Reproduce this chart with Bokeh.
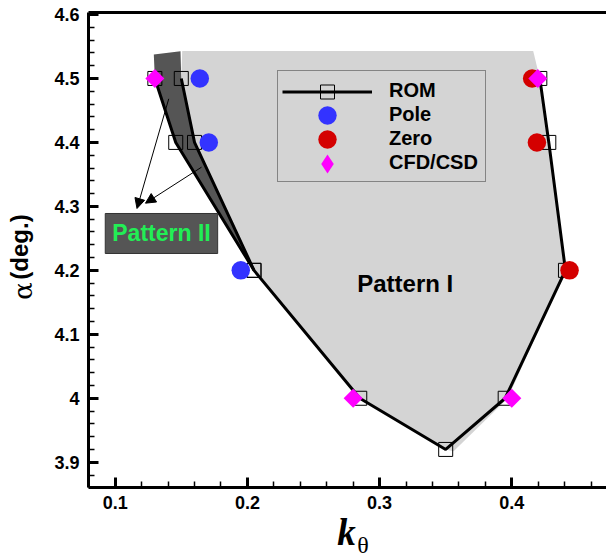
import numpy as np
from bokeh.plotting import figure
from bokeh.models import (Range1d, SingleIntervalTicker, FixedTicker, NumeralTickFormatter, Legend,
                          LegendItem, Label, Arrow, NormalHead, LinearAxis)
from bokeh.embed import file_html
from bokeh.resources import INLINE

# ---------------- data ----------------
# ROM boundary (outer left branch and main branch)
rom_outer_k = [0.130, 0.1458, 0.205]
rom_outer_a = [4.5, 4.4, 4.2]
rom_main_k = [0.150, 0.160, 0.205, 0.285, 0.350, 0.395, 0.4406, 0.428, 0.4212]
rom_main_a = [4.5, 4.4, 4.2, 4.0, 3.92, 4.0, 4.2, 4.4, 4.5]

pole_k = [0.164, 0.1708, 0.195]
pole_a = [4.5, 4.4, 4.2]

zero_k = [0.4154, 0.419, 0.4437]
zero_a = [4.5, 4.4, 4.2]

cfd_k = [0.130, 0.280, 0.400, 0.4197]
cfd_a = [4.5, 4.0, 4.0, 4.5]

# shaded regions
pat1_k = [0.1507, 0.150, 0.160, 0.205, 0.285, 0.350, 0.356, 0.397, 0.4406, 0.428, 0.4212, 0.4162]
pat1_a = [4.543, 4.5, 4.4, 4.2, 4.0, 3.92, 3.917, 4.0, 4.2, 4.4, 4.5, 4.543]
pat2_k = [0.1292, 0.130, 0.1458, 0.205, 0.160, 0.150, 0.1494]
pat2_a = [4.5375, 4.5, 4.4, 4.2, 4.4, 4.5, 4.5426]

# axis extents
k_lo, k_hi = 0.0798, 0.4716
a_lo, a_hi = 3.8605, 4.6031

W, H = 606, 560
# ---------------- figure ----------------
p = figure(width=W, height=H, output_backend="svg", toolbar_location=None,
           x_range=Range1d(0.01324, 0.47164), y_range=Range1d(3.74634, 4.62189),
           min_border_left=0, min_border_right=0, min_border_top=0, min_border_bottom=0)
p.outline_line_color = None
p.grid.visible = False
p.background_fill_color = "white"
p.border_fill_color = "white"

p.xaxis.fixed_location = a_lo
p.xaxis.bounds = (k_lo, k_hi)
p.yaxis.fixed_location = k_lo
p.yaxis.bounds = (a_lo, a_hi)

for ax in (p.xaxis[0], p.yaxis[0]):
    ax.ticker = SingleIntervalTicker(interval=0.1, num_minor_ticks=5)
    ax.formatter = NumeralTickFormatter(format="0.[0]")
    ax.axis_line_width = 3
    ax.axis_line_color = "black"
    ax.major_tick_in = 10
    ax.major_tick_out = 0
    ax.minor_tick_in = 6
    ax.minor_tick_out = 0
    ax.major_tick_line_width = 3
    ax.minor_tick_line_width = 1.5
    ax.major_tick_line_color = "black"
    ax.minor_tick_line_color = "black"
    ax.major_label_text_font = "Liberation Sans"
    ax.major_label_text_font_style = "bold"
    ax.major_label_text_font_size = "18px"
    ax.major_label_text_color = "black"
    ax.major_label_standoff = 9

# top spine
top_ax = LinearAxis(fixed_location=a_hi, bounds=(k_lo, k_hi), ticker=FixedTicker(ticks=[]),
                    axis_line_width=3, axis_line_color="black",
                    major_tick_line_color=None, minor_tick_line_color=None)
p.add_layout(top_ax, "above")

# regions
p.patch(pat1_k, pat1_a, fill_color="#d4d4d4", line_color=None)
p.patch(pat2_k, pat2_a, fill_color="#555555", line_color=None)

# ROM
rom_sq_k = rom_outer_k + rom_main_k
rom_sq_a = rom_outer_a + rom_main_a
sq_r = p.scatter(rom_sq_k, rom_sq_a, marker="square", size=14, fill_color=None,
                 line_color="black", line_width=1)
p.line(rom_outer_k, rom_outer_a, line_width=3, line_color="black")
line_r = p.line(rom_main_k, rom_main_a, line_width=3, line_color="black")

pole_r = p.scatter(pole_k, pole_a, marker="circle", size=18.5, fill_color="#3333ff",
                   line_color=None)
zero_r = p.scatter(zero_k, zero_a, marker="circle", size=18.5, fill_color="#d40000",
                   line_color=None)
cfd_r = p.scatter(cfd_k, cfd_a, marker="square", angle=45, angle_units="deg", size=13.5,
                  fill_color="#ff00ff", line_color=None)

# arrows to Pattern II label
for xs, ys, xe, ye in [(0.1405, 4.4682, 0.1165, 4.2967), (0.1653, 4.3613, 0.1229, 4.305)]:
    p.add_layout(Arrow(end=NormalHead(size=10, fill_color="black", line_color="black", line_width=1),
                       x_start=xs, y_start=ys, x_end=xe, y_end=ye,
                       line_width=1, line_color="black"))

p.add_layout(Label(x=0.135, y=4.2576, text="Pattern II", text_align="center",
                   text_baseline="middle", text_font="Liberation Sans", text_font_style="bold",
                   text_font_size="23px", text_color="#22ee55",
                   background_fill_color="#555555", border_line_color="#333333",
                   padding=7))
p.add_layout(Label(x=0.3194, y=4.1788, text="Pattern I", text_align="center",
                   text_baseline="middle", text_font="Liberation Sans", text_font_style="bold",
                   text_font_size="24px", text_color="black"))

# axis titles (placed in data units of the full-canvas frame)
p.add_layout(Label(x=0.26793, y=3.78934, text="k", text_align="left", text_baseline="middle",
                   text_font="Liberation Serif", text_font_style="bold italic",
                   text_font_size="37px", text_color="black"))
p.add_layout(Label(x=0.28306, y=3.76993, text="θ", text_align="left", text_baseline="middle",
                   text_font="Liberation Serif", text_font_size="24px", text_color="black"))
p.add_layout(Label(x=0.02761, y=4.23649, text="(deg.)",
                   angle=90, angle_units="deg", text_align="center", text_baseline="middle",
                   text_font="Liberation Sans", text_font_style="bold",
                   text_font_size="24px", text_color="black"))
p.add_layout(Label(x=0.030636, y=4.16770, text="α",
                   angle=90, angle_units="deg", text_align="center", text_baseline="middle",
                   text_font="DejaVu Serif", text_font_size="26px", text_color="black"))

# legend: box + labels (with invisible glyphs), then rows of visible glyphs
dummy = p.scatter([], [], fill_alpha=0, line_alpha=0)
cfd_leg = p.scatter(np.array([np.nan]), np.array([np.nan]), marker="diamond",
                    fill_color="#ff00ff", line_color=None)

main_leg = Legend(items=[LegendItem(label=t, renderers=[dummy])
                         for t in ["ROM", "Pole", "Zero", "CFD/CSD"]],
                  location=(277, H - 182), margin=0, padding=7, spacing=0,
                  glyph_width=100, glyph_height=24, label_height=24, label_standoff=4,
                  label_text_font="Liberation Sans", label_text_font_style="bold",
                  label_text_font_size="20px", label_text_color="black",
                  background_fill_color="#d4d4d4", background_fill_alpha=1.0,
                  border_line_color="#333333", border_line_width=1)
p.add_layout(main_leg, "center")

rows = [([line_r, sq_r], 91, 35), ([pole_r], 115, 46), ([zero_r], 139, 46), ([cfd_leg], 163, 47)]
for rends, cy, gh in rows:
    lg = Legend(items=[LegendItem(label=" ", renderers=rends)],
                location=(282.3, H - (cy + gh / 2)), margin=0, padding=0, spacing=0,
                glyph_width=90, glyph_height=gh, label_height=gh, label_width=0,
                label_standoff=0, label_text_font_size="1px", label_text_alpha=0,
                background_fill_alpha=0, border_line_color=None)
    p.add_layout(lg, "center")

open("out.html", "w").write(file_html(p, INLINE))
